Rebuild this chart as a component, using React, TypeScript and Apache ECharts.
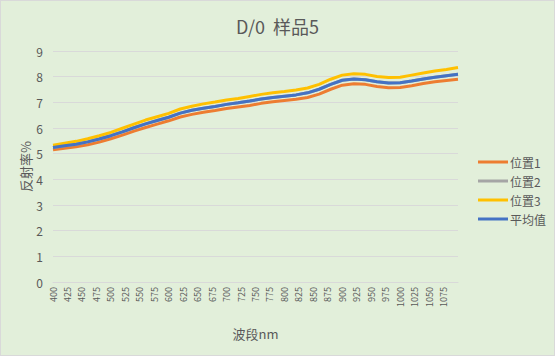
import React, { useEffect, useRef } from "react";
import * as echarts from "echarts";

const wavelengths = [400, 420, 440, 460, 480, 500, 520, 540, 560, 580, 600, 620, 640, 660, 680, 700, 720, 740, 760, 780, 800, 820, 840, 860, 880, 900, 920, 940, 960, 980, 1000, 1020, 1040, 1060, 1080, 1100];

const pos1 = [5.15, 5.21, 5.27, 5.35, 5.45, 5.58, 5.72, 5.88, 6.02, 6.15, 6.28, 6.43, 6.53, 6.61, 6.68, 6.76, 6.82, 6.88, 6.96, 7.02, 7.07, 7.12, 7.19, 7.32, 7.51, 7.67, 7.72, 7.70, 7.62, 7.57, 7.58, 7.65, 7.73, 7.80, 7.85, 7.90];
const pos2 = [5.24, 5.31, 5.37, 5.46, 5.57, 5.70, 5.85, 6.01, 6.16, 6.29, 6.42, 6.58, 6.69, 6.77, 6.84, 6.92, 6.98, 7.05, 7.13, 7.19, 7.24, 7.29, 7.37, 7.51, 7.70, 7.86, 7.91, 7.88, 7.80, 7.75, 7.76, 7.83, 7.91, 7.98, 8.04, 8.09];
const pos3 = [5.33, 5.41, 5.48, 5.58, 5.70, 5.83, 5.99, 6.15, 6.31, 6.44, 6.57, 6.74, 6.85, 6.94, 7.01, 7.09, 7.15, 7.23, 7.31, 7.37, 7.42, 7.48, 7.56, 7.70, 7.90, 8.06, 8.11, 8.09, 8.01, 7.97, 7.98, 8.06, 8.14, 8.22, 8.28, 8.36];
const average = [5.24, 5.31, 5.37, 5.46, 5.57, 5.70, 5.85, 6.01, 6.16, 6.29, 6.42, 6.58, 6.69, 6.77, 6.84, 6.92, 6.98, 7.05, 7.13, 7.19, 7.24, 7.29, 7.37, 7.51, 7.70, 7.86, 7.91, 7.88, 7.80, 7.75, 7.76, 7.83, 7.91, 7.98, 8.04, 8.09];

const seriesNames = ["位置1", "位置2", "位置3", "平均值"];
const seriesColors = ["#ED7D31", "#A5A5A5", "#FFC000", "#4472C4"];
const seriesValues = [pos1, pos2, pos3, average];

const FONT = "'Noto Sans CJK SC', 'Noto Sans', sans-serif";

export default function App() {
  const ref = useRef<HTMLDivElement>(null);
  useEffect(() => {
    if (!ref.current) return;
    const chart = echarts.init(ref.current, null, { renderer: "svg" });
    chart.setOption({
      animation: false,
      backgroundColor: "#E2EFDA",
      textStyle: { fontFamily: FONT },
      title: {
        text: "D/0  样品5",
        left: "center",
        top: 11,
        textStyle: { fontSize: 18, fontWeight: "normal", color: "#595959", fontFamily: FONT },
      },
      legend: {
        orient: "vertical",
        left: 472,
        top: 149,
        itemWidth: 30,
        itemHeight: 3,
        itemGap: 5,
        icon: "rect",
        data: seriesNames,
        textStyle: { fontSize: 12, color: "#595959", lineHeight: 14, padding: [0, 0, 0, -3], fontFamily: FONT },
      },
      grid: { left: 52, right: 96, top: 50, bottom: 73, containLabel: false },
      xAxis: {
        type: "value",
        min: 400,
        max: 1100,
        interval: 25,
        name: "波段nm",
        nameLocation: "middle",
        nameGap: 45,
        nameMoveOverlap: false,
        nameTextStyle: { fontSize: 13, color: "#595959", fontFamily: FONT },
        axisLine: { show: true, lineStyle: { color: "#D9D9D9", width: 1 } },
        axisTick: { show: false },
        splitLine: { show: false },
        axisLabel: {
          rotate: 90,
          fontSize: 9,
          color: "#595959",
          margin: 5,
          showMaxLabel: false,
          fontFamily: FONT,
          formatter: (v: number) => String(v),
        },
      },
      yAxis: {
        type: "value",
        min: 0,
        max: 9,
        interval: 1,
        name: "反射率%",
        nameLocation: "middle",
        nameRotate: 90,
        nameGap: 21,
        nameMoveOverlap: false,
        nameTextStyle: { fontSize: 13, color: "#595959", fontFamily: FONT },
        axisLine: { show: false },
        axisTick: { show: false },
        splitLine: { lineStyle: { color: "#D9D9D9", width: 1 } },
        axisLabel: { fontSize: 12, color: "#595959", margin: 10, fontFamily: FONT },
      },
      series: seriesNames.map((name, k) => ({
        name,
        type: "line",
        showSymbol: false,
        symbol: "none",
        color: seriesColors[k],
        lineStyle: { width: 3, color: seriesColors[k] },
        data: wavelengths.map((w, i) => [w, seriesValues[k][i]]),
      })),
    });
    return () => chart.dispose();
  }, []);
  return (
    <div
      style={{
        position: "absolute",
        left: 0,
        top: 0,
        width: 555,
        height: 356,
        boxSizing: "border-box",
        border: "1px solid #D9D9D9",
        background: "#E2EFDA",
      }}
    >
      <div ref={ref} style={{ width: 553, height: 354 }} />
    </div>
  );
}
